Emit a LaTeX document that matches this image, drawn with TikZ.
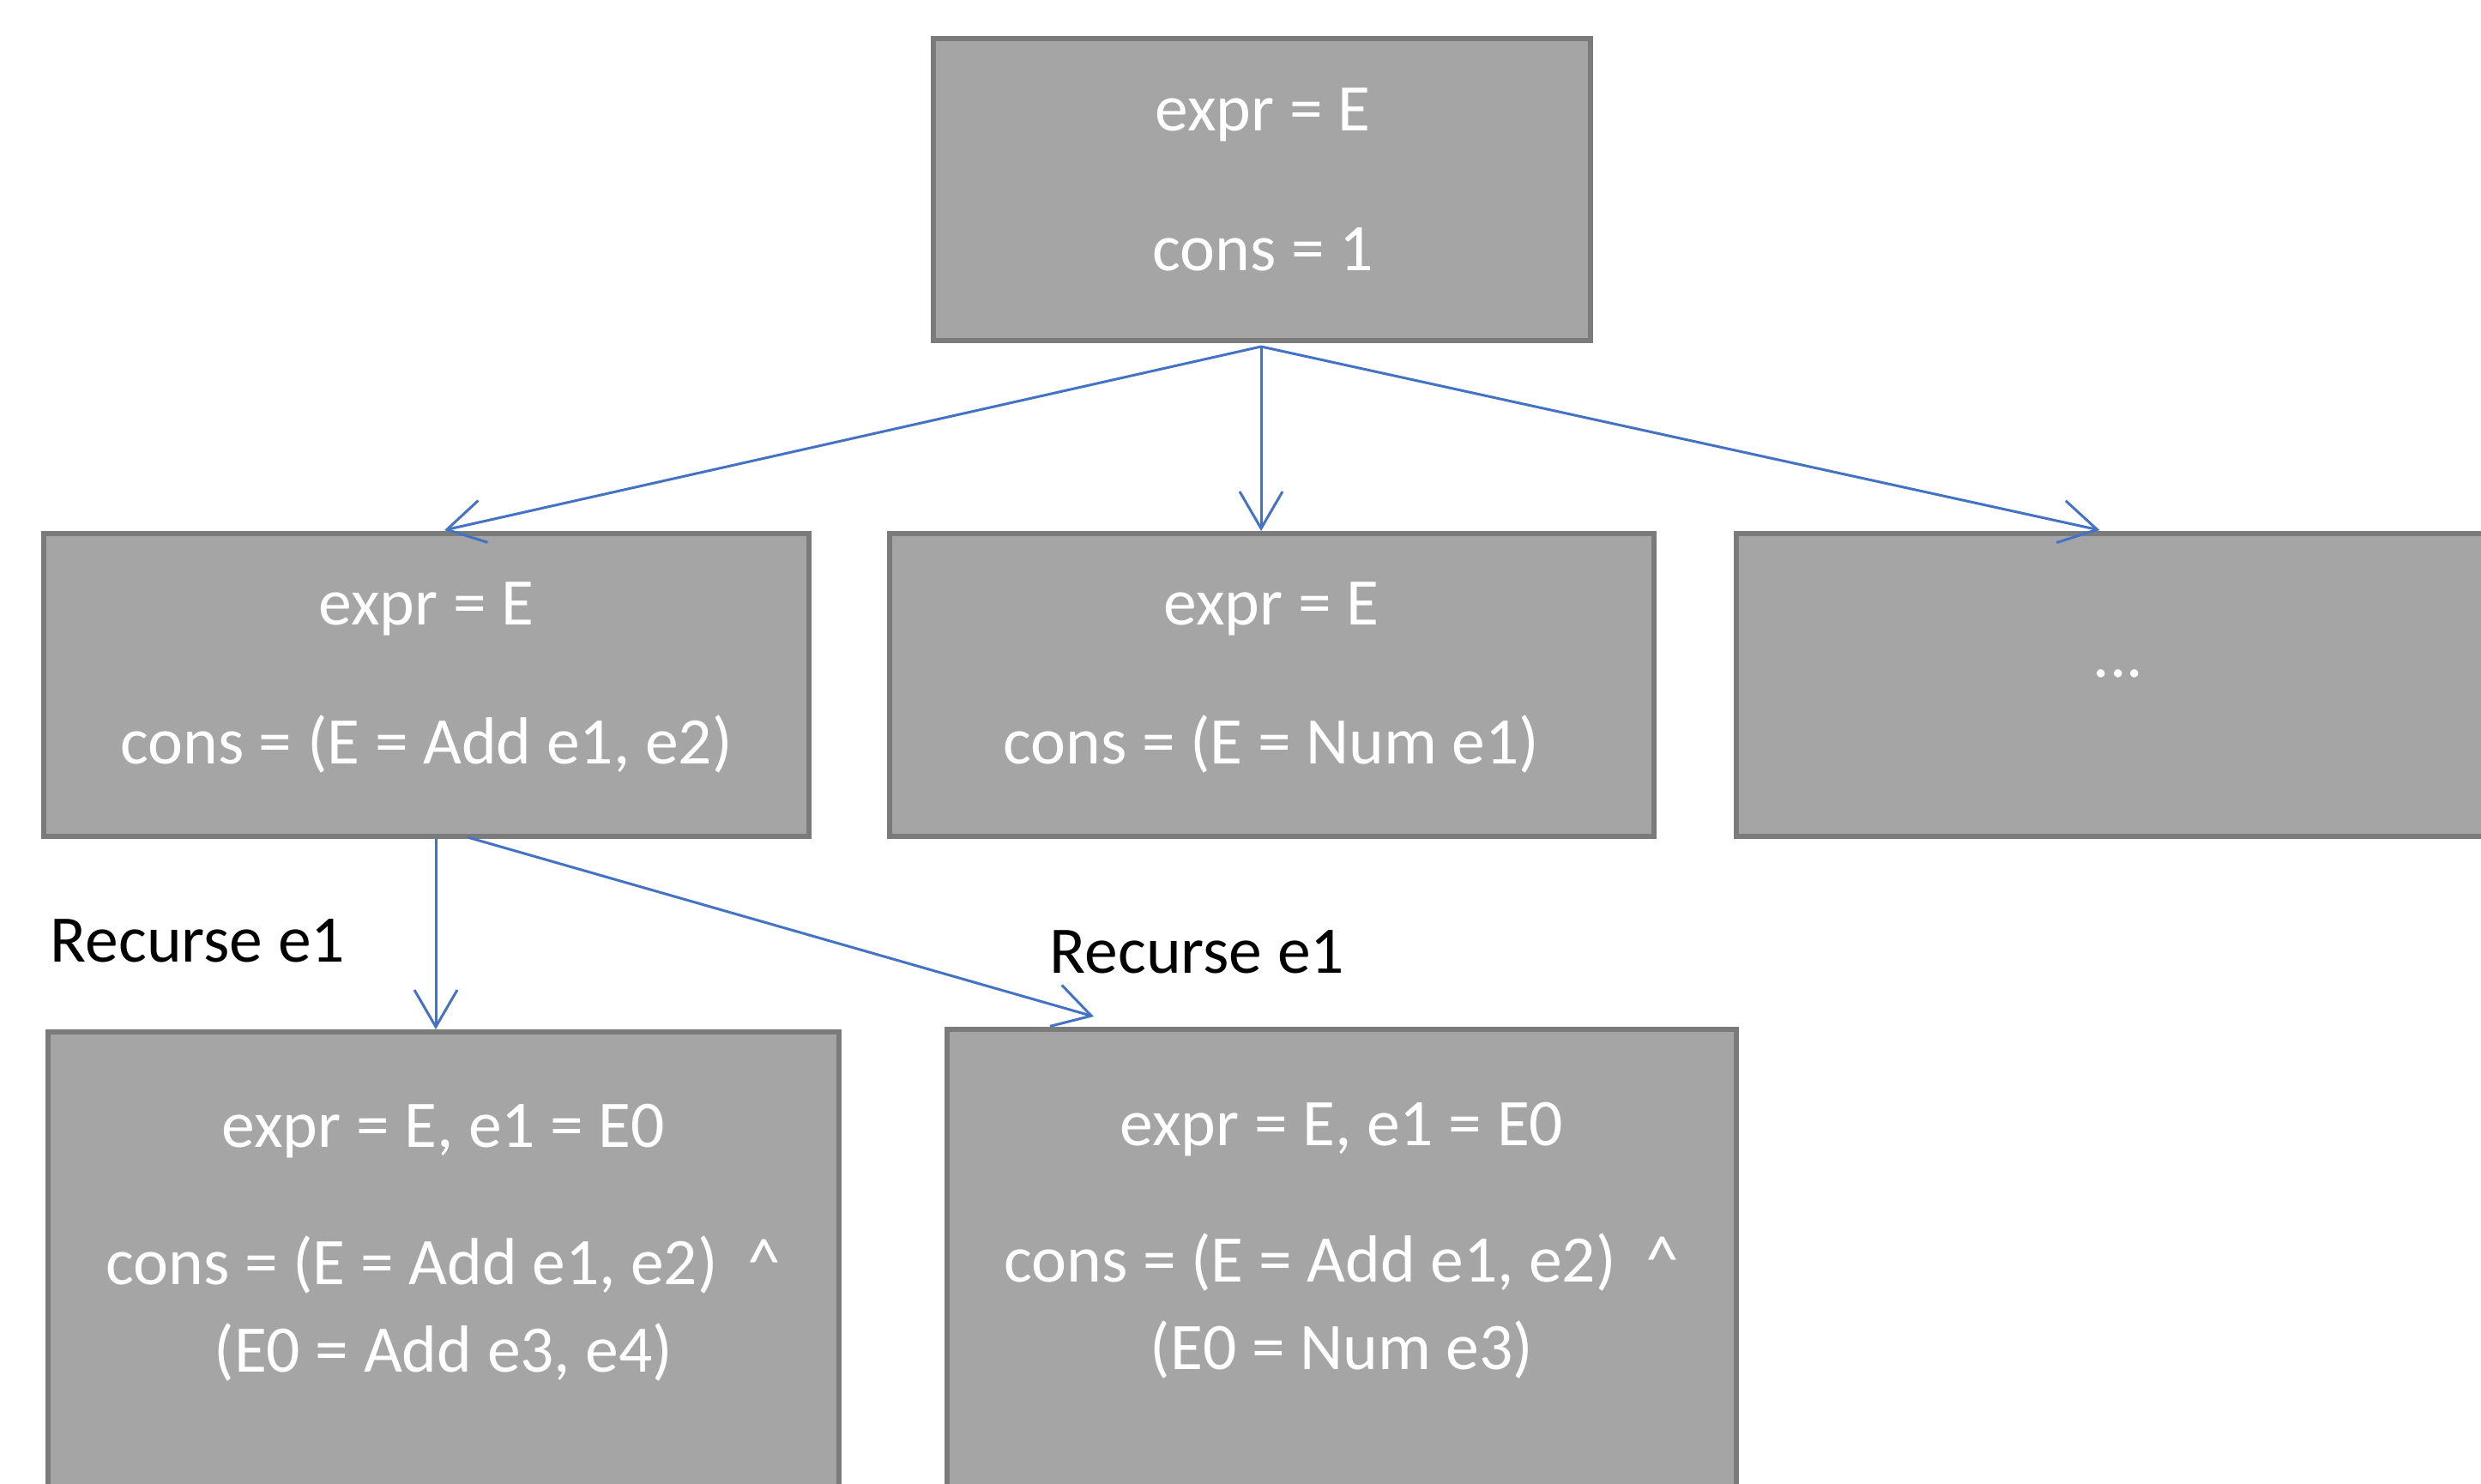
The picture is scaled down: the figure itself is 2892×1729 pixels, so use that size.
\documentclass[tikz,border=0pt]{standalone}
\usepackage{fontspec}
\setmainfont{Carlito}
\usetikzlibrary{arrows.meta,calc}
\definecolor{boxfill}{HTML}{A5A5A5}
\definecolor{boxline}{HTML}{7B7B7B}
\definecolor{arrblue}{HTML}{4472C4}
\begin{document}
\begin{tikzpicture}[x=0.25pt,y=-0.25pt,
  box/.style={draw=boxline, fill=boxfill, line width=1.5pt, rectangle, inner sep=0pt, anchor=north west},
  wtxt/.style={text=white, inner sep=0pt, anchor=base, font=\fontsize{19.4}{23}\selectfont},
  ltxt/.style={text=black, inner sep=0pt, anchor=base west, font=\fontsize{19.4}{23}\selectfont},
  arr/.style={draw=arrblue, line width=0.75pt, -{Straight Barb[length=10.75pt,width=12.5pt]}}]
\useasboundingbox (0,0) rectangle (2892,1729);
\clip (0,0) rectangle (2892,1729);
% boxes
\node[box, minimum width=191.5pt, minimum height=88pt] (top) at (1085,42) {};
\node[box, minimum width=223pt, minimum height=88.25pt] (A) at (48,619) {};
\node[box, minimum width=222.75pt, minimum height=88.25pt] (B) at (1034,619) {};
\node[box, minimum width=222.75pt, minimum height=88.25pt] (C) at (2021,619) {};
\node[box, minimum width=230.5pt, minimum height=149.25pt] (D) at (53,1200) {};
\node[box, minimum width=230pt, minimum height=150pt] (E) at (1101,1197) {};
% texts
\node[wtxt] (topa) at (1472,152) {expr = E};
\node[wtxt] (topb) at (1472,315) {cons = 1};
\node[wtxt] (Aa) at (497,728) {expr = E};
\node[wtxt] (Ab) at (497,890) {cons = (E = Add e1, e2)};
\node[wtxt] (Ba) at (1482,728) {expr = E};
\node[wtxt] (Bb) at (1482,890) {cons = (E = Num e1)};
\node[wtxt] (Ca) at (2469,789) {...};
\node[wtxt] (Da) at (517,1337) {expr = E, e1 = E0};
\node[wtxt] (Db) at (517,1497) {cons = (E = Add e1, e2)\ \ \textasciicircum};
\node[wtxt] (Dc) at (517,1599) {(E0 = Add e3, e4)};
\node[wtxt] (Ea) at (1564,1335) {expr = E, e1 = E0};
\node[wtxt] (Eb) at (1564,1494) {cons = (E = Add e1, e2)\ \ \textasciicircum};
\node[wtxt] (Ec) at (1564,1596) {(E0 = Num e3)};
% labels
\node[ltxt] (l1) at (58,1121) {Recurse e1};
\node[ltxt] (l2) at (1223,1134) {Recurse e1};
% connectors
\coordinate (ts) at ($(top.south)+(-1,4)$);
\coordinate (as) at ($(A.south)+(11,0)$);
\draw[arr] (ts) -- ($(A.north)+(21,-1)$);
\draw[arr] (ts) -- (ts |- B.north);
\draw[arr] (ts) -- ($(C.north)+(-22,-1)$);
\draw[arr] (as) -- (as |- D.north);
\draw[arr] ($(A.south)+(48,-2)$) -- ($(E.north)+(-289,-12)$);
\end{tikzpicture}
\end{document}
